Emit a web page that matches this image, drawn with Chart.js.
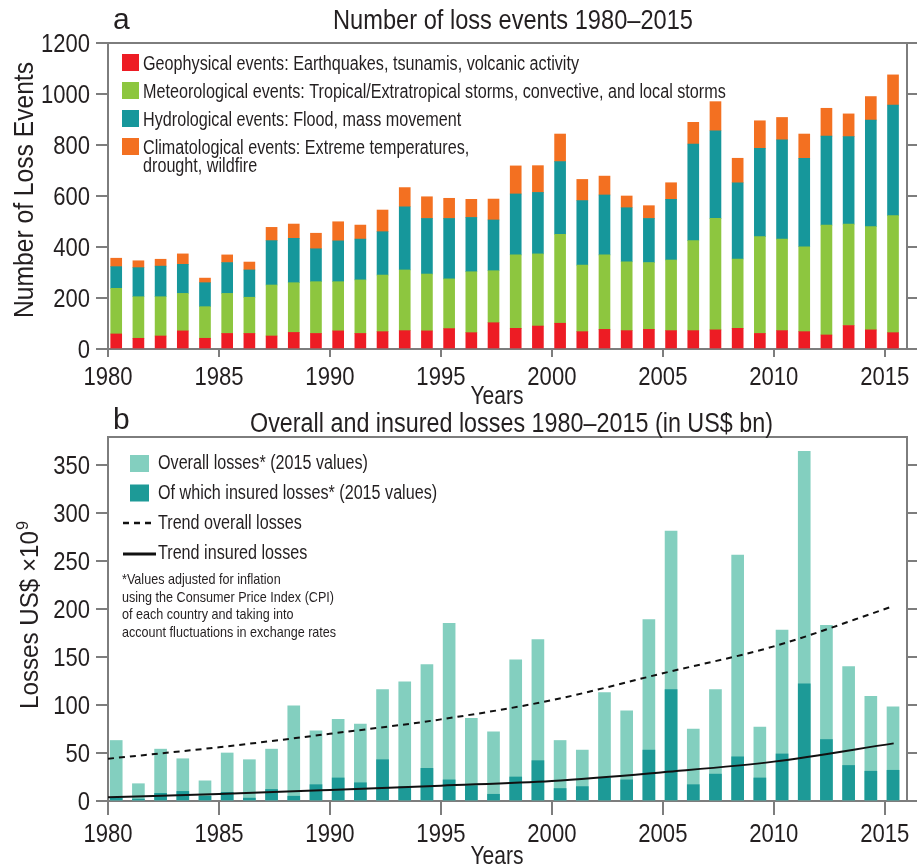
<!DOCTYPE html>
<html><head><meta charset="utf-8">
<script src="https://cdn.jsdelivr.net/npm/chart.js@4.4.1/dist/chart.umd.min.js"></script>
<style>
html,body{margin:0;padding:0;background:#fff;}
#wrap{position:relative;width:917px;height:865px;overflow:hidden;background:#fff;}
.c{position:absolute;left:0;width:917px;}
</style></head><body>
<div id="wrap">
<div class="c" style="top:0;height:415px"><canvas id="cA"></canvas></div>
<div class="c" style="top:402px;height:463px"><canvas id="cB"></canvas></div>
</div>
<script>
// ---------- data ----------
const years = [1980,1981,1982,1983,1984,1985,1986,1987,1988,1989,1990,1991,1992,1993,1994,1995,1996,1997,
               1998,1999,2000,2001,2002,2003,2004,2005,2006,2007,2008,2009,2010,2011,2012,2013,2014,2015];
const geophysical    = [59,42,51,71,42,61,61,51,65,61,71,61,68,72,71,80,64,103, 81,90,101,68,77,72,77,72,72,75,81,61,72,68,55,92,75,64];
const meteorological = [179,163,154,147,124,157,142,200,195,203,193,210,222,238,223,195,239,204, 288,283,349,261,292,270,262,277,353,437,272,380,359,333,431,398,405,459];
const hydrological   = [85,114,120,114,94,121,107,174,174,129,160,160,170,248,218,237,213,199, 239,241,285,253,235,212,173,238,379,344,299,346,389,347,349,343,418,434];
const climatological = [33,27,27,41,18,30,31,52,56,61,75,55,85,75,85,79,71,82, 110,105,108,83,74,46,50,65,85,114,96,108,88,95,109,89,92,118];
const eventLabels = ['Geophysical events: Earthquakes, tsunamis, volcanic activity',
  'Meteorological events: Tropical/Extratropical storms, convective, and local storms',
  'Hydrological events: Flood, mass movement',
  'Climatological events: Extreme temperatures,|drought, wildfire'];

const overallLosses = [63,18,54,44,21,50,43,54,99,73,85,80,116,124,142,185,86,72, 147,168,63,53,113,94,189,281,75,116,256,77,178,364,183,140,109,98];
const insuredLosses = [3,2,8,10,5,9,3,12,5,17,24,19,43,15,34,22,16,7, 25,42,13,15,24,22,53,116,17,28,46,24,49,122,64,37,31,32];
const trendYears   = [1980,1985,1990,1995,2000,2005,2010,2015.4];
const trendOverall = [44,56,70,85,105,133,161,203];
const trendInsured = [3.8,7.3,11.5,16,20.8,30,41,60];
const lossLabels = ['Overall losses* (2015 values)','Of which insured losses* (2015 values)','Trend overall losses','Trend insured losses'];
const footnote = ['*Values adjusted for inflation','using the Consumer Price Index (CPI)','of each country and taking into','account fluctuations in exchange rates'];

const yearTicks  = [1980,1985,1990,1995,2000,2005,2010,2015];
const eventTicks = [0,200,400,600,800,1000,1200];
const lossTicks  = [0,50,100,150,200,250,300,350];

// ---------- styles ----------
const SANS = "'Liberation Sans',Arial,Helvetica,sans-serif";
const TXT = '#231f20';
const AX = '#7d7d7d';
const C = {red:'#ed1c24', green:'#8dc63f', teal:'#16979b', orange:'#f37021', light:'#83cfbf', dark:'#1d9a97'};

function setTicks(arr){ return s => { s.ticks = arr.map(v => ({value:v})); }; }
function fixW(w){ return s => { s.width = w; }; }
function fixH(h){ return s => { s.height = h; }; }

function xAxis(h, tl){
  return {type:'linear', position:'bottom', min:1980, max:2016, offset:false,
    afterBuildTicks:setTicks(yearTicks), afterFit:fixH(h),
    grid:{drawOnChartArea:false, drawTicks:true, tickLength:tl, color:AX, lineWidth:2, offset:false},
    border:{display:true, color:AX, width:2},
    ticks:{display:false}};
}
function yAxis(min,max,ticks,stacked){
  return {type:'linear', position:'left', min, max, stacked,
    afterBuildTicks:setTicks(ticks), afterFit:fixW(108),
    grid:{drawOnChartArea:false, drawTicks:true, tickLength:12, color:AX, lineWidth:2},
    border:{display:true, color:AX, width:2},
    ticks:{display:false}};
}
function y2Axis(min,max,ticks){
  return {type:'linear', position:'right', min, max,
    afterBuildTicks:setTicks(ticks), afterFit:fixW(10),
    grid:{drawOnChartArea:false, drawTicks:true, tickLength:10, color:AX, lineWidth:2},
    border:{display:true, color:AX, width:2},
    ticks:{display:false}};
}
function barAxis(stacked){
  return {type:'linear', display:false, min:1979.63, max:2015.63, stacked, offset:false, grid:{offset:false}};
}

// draw text, condensed horizontally by sx (or fitted to width w)
function text(ctx, t, x, y, o){
  ctx.save();
  ctx.font = o.size + 'px ' + SANS;
  ctx.fillStyle = TXT; ctx.textBaseline = 'alphabetic'; ctx.textAlign = 'left';
  const mw = ctx.measureText(t).width;
  const sx = o.w ? o.w / mw : (o.sx || 1);
  const W = mw * sx;
  ctx.translate(x, y);
  if (o.rot) ctx.rotate(o.rot);
  const dx = o.align === 'center' ? -W/2 : (o.align === 'right' ? -W : 0);
  ctx.translate(dx, 0); ctx.scale(sx, 1);
  ctx.fillText(t, 0, 0);
  ctx.restore();
  return W;
}
function fitSx(ctx, t, size, w){ ctx.save(); ctx.font = size+'px '+SANS; const m = ctx.measureText(t).width; ctx.restore(); return w/m; }

function drawTickLabels(chart, xBase, yTicks){
  const ctx = chart.ctx, sx = chart.scales.x, sy = chart.scales.y;
  yearTicks.forEach(v => text(ctx, String(v), sx.getPixelForValue(v), xBase, {size:26, sx:0.85, align:'center'}));
  yTicks.forEach(v => text(ctx, String(v), 90, sy.getPixelForValue(v) + 9, {size:25, sx:0.88, align:'right'}));
}
const framePlugin = {id:'frame', afterDraw(chart){
  const {ctx, chartArea:a} = chart;
  ctx.save(); ctx.strokeStyle = AX; ctx.lineWidth = 2;
  ctx.beginPath(); ctx.moveTo(a.left-1, a.top); ctx.lineTo(a.right+1, a.top); ctx.stroke(); ctx.restore();
}};

// ---------- chart a ----------
const annA = {id:'annA', afterDraw(chart){
  const ctx = chart.ctx;
  drawTickLabels(chart, 385, eventTicks);
  text(ctx,'a',113,29,{size:30});
  text(ctx,'Number of loss events 1980\u20132015',513,29,{size:28, w:360, align:'center'});
  text(ctx,'Number of Loss Events',33,190,{size:28, w:256, align:'center', rot:-Math.PI/2});
  text(ctx,'Years',497,404,{size:25, w:53, align:'center'});
  const sxL = fitSx(ctx, eventLabels[0], 20, 436);
  const base=[70,98,126,154];
  chart.data.datasets.forEach((ds,i)=>{
    ctx.fillStyle = ds.backgroundColor; ctx.fillRect(122, base[i]-16, 17, 17);
    ds.label.split('|').forEach((ln,j)=> text(ctx, ln, 143, base[i]+j*18, {size:20, sx:sxL}));
  });
}};
new Chart(document.getElementById('cA'), {
  type:'bar',
  data:{datasets:[
    {label:eventLabels[0], data:years.map((y,i)=>({x:y,y:geophysical[i]})), backgroundColor:C.red},
    {label:eventLabels[1], data:years.map((y,i)=>({x:y,y:meteorological[i]})), backgroundColor:C.green},
    {label:eventLabels[2], data:years.map((y,i)=>({x:y,y:hydrological[i]})), backgroundColor:C.teal},
    {label:eventLabels[3], data:years.map((y,i)=>({x:y,y:climatological[i]})), backgroundColor:C.orange}
  ].map(d=>Object.assign(d,{xAxisID:'xb', yAxisID:'y', barThickness:11, borderWidth:0}))},
  options:{responsive:true, maintainAspectRatio:false, animation:false,
    layout:{padding:{top:43,left:0,right:0,bottom:0}},
    plugins:{legend:{display:false}, tooltip:{enabled:false}, title:{display:false}},
    scales:{x:xAxis(66,8), xb:barAxis(true), y:yAxis(0,1200,eventTicks,true), y2:y2Axis(0,1200,eventTicks)}},
  plugins:[framePlugin, annA]
});

// ---------- chart b ----------
const annB = {id:'annB', afterDraw(chart){
  const ctx = chart.ctx;
  drawTickLabels(chart, 440, lossTicks);
  text(ctx,'b',113,26.5,{size:30});
  text(ctx,'Overall and insured losses 1980\u20132015 (in US$ bn)',511.5,29.5,{size:27, w:523, align:'center'});
  // rotated y title with superscript 9
  ctx.save(); ctx.translate(38,213); ctx.rotate(-Math.PI/2);
  const wMain = 178, w9 = 10;
  text(ctx,'Losses US$ \u00d710', -(wMain+w9)/2, 0, {size:26, w:wMain});
  text(ctx,'9', -(wMain+w9)/2 + wMain + 1, -10, {size:17, w:9});
  ctx.restore();
  text(ctx,'Years',497,462,{size:25, w:53, align:'center'});
  const base=[469,499,529,559].map(v=>v-402);
  ctx.fillStyle = C.light; ctx.fillRect(130, 455-402, 19, 17);
  ctx.fillStyle = C.dark;  ctx.fillRect(130, 484.5-402, 19, 17);
  ctx.save(); ctx.strokeStyle='#111';
  ctx.lineWidth=2.5; ctx.setLineDash([6,5]); ctx.beginPath(); ctx.moveTo(123,523-402); ctx.lineTo(156,523-402); ctx.stroke();
  ctx.setLineDash([]); ctx.lineWidth=3; ctx.beginPath(); ctx.moveTo(123,554-402); ctx.lineTo(156,554-402); ctx.stroke();
  ctx.restore();
  const sxL = fitSx(ctx, lossLabels[0], 20, 210);
  lossLabels.forEach((l,i)=> text(ctx,l,158,base[i],{size:20, sx:sxL}));
  const sxF = fitSx(ctx, footnote[1], 15, 212);
  footnote.forEach((l,i)=> text(ctx,l,122,584.3-402+i*17.5,{size:15, sx:sxF}));
}};
new Chart(document.getElementById('cB'), {
  data:{datasets:[
    {type:'line', label:lossLabels[2], data:trendYears.map((y,i)=>({x:y,y:trendOverall[i]})), xAxisID:'x', yAxisID:'y',
      borderColor:'#111', borderWidth:2, borderDash:[6,5], pointRadius:0, cubicInterpolationMode:'monotone', order:0},
    {type:'line', label:lossLabels[3], data:trendYears.map((y,i)=>({x:y,y:trendInsured[i]})), xAxisID:'x', yAxisID:'y',
      borderColor:'#111', borderWidth:2, pointRadius:0, cubicInterpolationMode:'monotone', order:0},
    {type:'bar', label:lossLabels[1], data:years.map((y,i)=>({x:y,y:insuredLosses[i]})), xAxisID:'xb', yAxisID:'y',
      backgroundColor:C.dark, barThickness:12, borderWidth:0, grouped:false, order:1},
    {type:'bar', label:lossLabels[0], data:years.map((y,i)=>({x:y,y:overallLosses[i]})), xAxisID:'xb', yAxisID:'y',
      backgroundColor:C.light, barThickness:12, borderWidth:0, grouped:false, order:2}
  ]},
  options:{responsive:true, maintainAspectRatio:false, animation:false,
    layout:{padding:{top:35,left:0,right:0,bottom:0}},
    plugins:{legend:{display:false}, tooltip:{enabled:false}, title:{display:false}},
    scales:{x:xAxis(64,14), xb:barAxis(false), y:yAxis(0,379,lossTicks,false), y2:y2Axis(0,379,lossTicks)}},
  plugins:[framePlugin, annB]
});
</script>
</body></html>
